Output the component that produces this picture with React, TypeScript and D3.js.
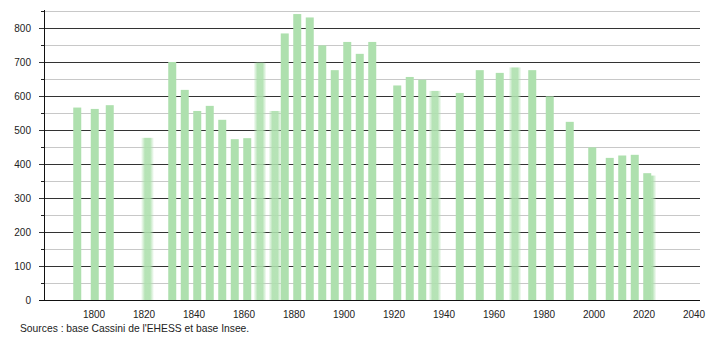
import React from "react";
import * as d3 from "d3";

const years = [1793, 1800, 1806, 1821, 1831, 1836, 1841, 1846, 1851, 1856, 1861, 1866, 1872, 1876, 1881, 1886, 1891, 1896, 1901, 1906, 1911, 1921, 1926, 1931, 1936, 1946, 1954, 1962, 1968, 1975, 1982, 1990, 1999, 2006, 2011, 2016, 2021, 2022];
const population = [566, 562, 573, 477, 700, 618, 556, 571, 530, 473, 476, 698, 556, 784, 841, 831, 749, 676, 759, 724, 759, 631, 656, 648, 615, 609, 676, 668, 684, 676, 599, 524, 449, 418, 425, 427, 373, 366];
const fuzzyYears = [1821, 1866, 1872, 1936, 1968, 2022];
const xTickYears = [1800, 1820, 1840, 1860, 1880, 1900, 1920, 1940, 1960, 1980, 2000, 2020, 2040];
const yMajorTicks = [0, 100, 200, 300, 400, 500, 600, 700, 800];
const yMinorTicks = [50, 150, 250, 350, 450, 550, 650, 750, 850];
const sourceText = "Sources : base Cassini de l'EHESS et base Insee.";

const W = 710;
const H = 340;
const left = 44;
const right = 700;
const bottom = 300;
const top = 11;
const barColor = "#aee0ae";
const font = "'Liberation Sans', Arial, sans-serif";

export default function App() {
  const x = d3.scaleLinear().domain([1780, 2042.4]).range([left, right]);
  const y = d3.scaleLinear().domain([0, 850]).range([bottom, top]);
  const data = years.map((yr, i) => ({ year: yr, value: population[i], fuzzy: fuzzyYears.includes(yr) }));

  return (
    <svg width={W} height={H} style={{ position: "absolute", left: 0, top: 0, background: "#fff" }}>
      <defs>
        <linearGradient id="fuzz" x1="0" x2="1" y1="0" y2="0">
          <stop offset="0" stopColor={barColor} stopOpacity={0} />
          <stop offset="0.3" stopColor={barColor} stopOpacity={0.9} />
          <stop offset="0.7" stopColor={barColor} stopOpacity={0.9} />
          <stop offset="1" stopColor={barColor} stopOpacity={0} />
        </linearGradient>
      </defs>
      {yMinorTicks.map((v) => (
        <g key={"mi" + v}>
          <line x1={left} x2={right} y1={Math.round(y(v)) + 0.5} y2={Math.round(y(v)) + 0.5} stroke="#c8c8c8" strokeWidth={1} />
          <line x1={left - 3} x2={left} y1={Math.round(y(v)) + 0.5} y2={Math.round(y(v)) + 0.5} stroke="#222" strokeWidth={1} />
        </g>
      ))}
      {yMajorTicks.filter((v) => v > 0).map((v) => (
        <line key={"ma" + v} x1={left - 5} x2={right} y1={Math.round(y(v)) + 0.5} y2={Math.round(y(v)) + 0.5} stroke="#333" strokeWidth={1} />
      ))}
      {data.map((d) =>
        d.fuzzy ? (
          <rect key={d.year} x={x(d.year) - 5.5} width={13} y={y(d.value)} height={bottom - y(d.value)} fill="url(#fuzz)" />
        ) : (
          <rect key={d.year} x={x(d.year) - 3.25} width={8} y={y(d.value)} height={bottom - y(d.value)} fill={barColor} />
        )
      )}
      <line x1={left + 0.5} x2={left + 0.5} y1={top - 1} y2={bottom} stroke="#111" strokeWidth={1} />
      <line x1={left - 5} x2={right} y1={bottom + 0.5} y2={bottom + 0.5} stroke="#111" strokeWidth={1} />
      {yMajorTicks.map((v) => (
        <text key={"yl" + v} x={31} y={y(v)} dy="0.35em" textAnchor="end" fontFamily={font} fontSize={10} fill="#222">
          {v}
        </text>
      ))}
      {xTickYears.map((yr) => (
        <text key={"xl" + yr} x={x(yr)} y={314} dy="0.35em" textAnchor="middle" fontFamily={font} fontSize={10} fill="#222">
          {yr}
        </text>
      ))}
      <text x={20} y={332} fontFamily={font} fontSize={10.3} fill="#222">
        {sourceText}
      </text>
    </svg>
  );
}
